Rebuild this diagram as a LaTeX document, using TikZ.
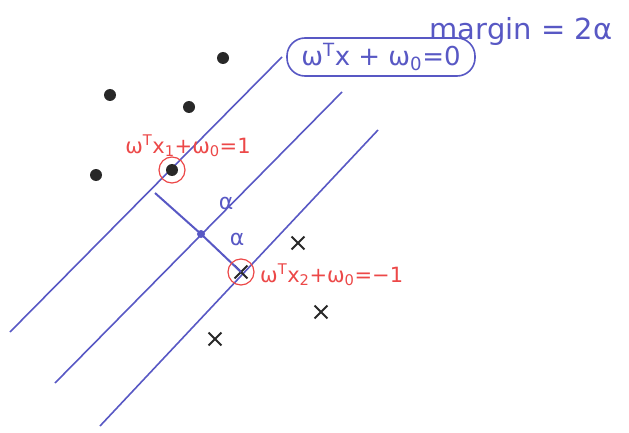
\documentclass[tikz,border=0pt]{standalone}
\usepackage{fontspec}
\setmainfont{DejaVu Sans}
\usetikzlibrary{shapes.misc}
\definecolor{pen}{RGB}{88,88,196}
\definecolor{redpen}{RGB}{236,72,72}
\definecolor{ink}{RGB}{40,40,40}
\tikzset{
  hyper/.style={pen, line width=1.6pt},
  dotpt/.style={circle, fill=ink, inner sep=0pt, minimum size=12pt},
  crosspt/.style={cross out, draw=ink, line width=1.8pt, inner sep=0pt, minimum size=11pt},
  ring/.style={circle, draw=redpen, line width=1.2pt, minimum size=26pt, inner sep=0pt},
  redlbl/.style={text=redpen, font=\fontsize{21}{23}\selectfont, inner sep=1pt},
  bluelbl/.style={text=pen, font=\fontsize{22}{24}\selectfont},
}
\begin{document}
\begin{tikzpicture}[x=1pt,y=-1pt]
\useasboundingbox (0,0) rectangle (629,433);
% hyperplanes
\coordinate (a1) at (10,332); \coordinate (b1) at (282,57);
\coordinate (a2) at (55,383); \coordinate (b2) at (342,92);
\coordinate (a3) at (100,426); \coordinate (b3) at (378,130);
\draw[hyper] (a1) -- (b1);
\draw[hyper] (a2) -- (b2);
\draw[hyper] (a3) -- (b3);
% perpendicular
\coordinate (p1) at (155,193);
\node[circle, fill=pen, inner sep=0pt, minimum size=8pt] (m) at (201,234) {};
\node[crosspt] (x2) at (241,272) {};
\draw[hyper, line width=2pt] (p1) -- (m.center) -- (x2.center);
\node[bluelbl] (al1) at (226,203) {α};
\node[bluelbl] (al2) at (237,239) {α};
% points
\node[dotpt] (d1) at (223,58) {};
\node[dotpt] (d2) at (110,95) {};
\node[dotpt] (d3) at (189,107) {};
\node[dotpt] (d4) at (96,175) {};
\node[dotpt] (x1) at (172,170) {};
\node[ring] (r1) at (x1) {};
\node[ring] (r2) at (x2) {};
\node[crosspt] (c1) at (298,243) {};
\node[crosspt] (c2) at (321,312) {};
\node[crosspt] (c3) at (215,339) {};
% labels
\node[redlbl] (l1) at (188,146) {ω\textsuperscript{T}x\textsubscript{1}+ω\textsubscript{0}=1};
\node[redlbl, anchor=west] (l2) at (259,275) {ω\textsuperscript{T}x\textsubscript{2}+ω\textsubscript{0}=−1};
\node[text=pen, font=\fontsize{26}{28}\selectfont, draw=pen, line width=1.6pt, rounded corners=18pt, minimum height=38pt, minimum width=188pt, inner xsep=6pt] (h0) at (381,57) {ω\textsuperscript{T}x + ω\textsubscript{0}=0};
\node[text=pen, font=\fontsize{29}{31}\selectfont] (mg) at (521,32) {margin = 2α};
\end{tikzpicture}
\end{document}
